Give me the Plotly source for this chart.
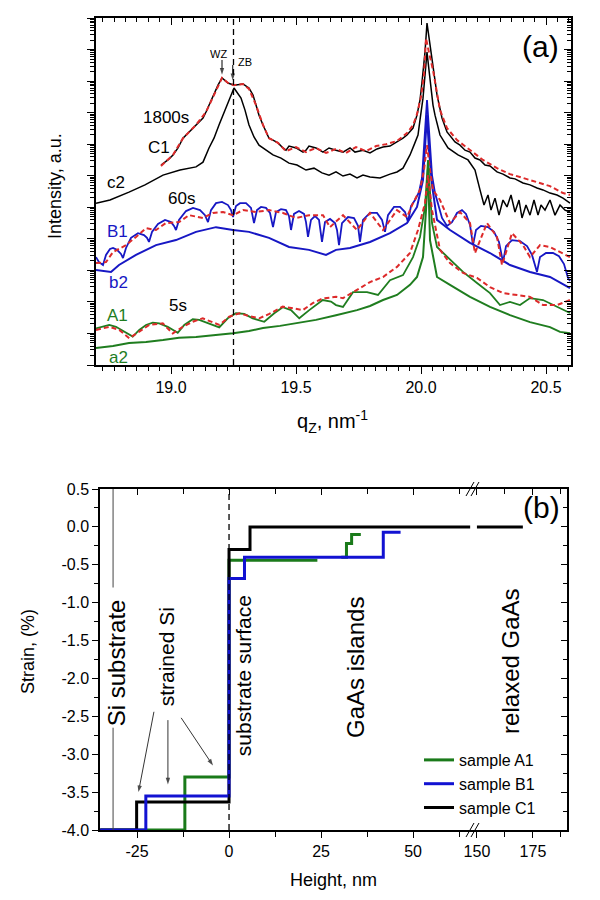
import plotly.graph_objects as go

# ---------------- panel (a): q_z (nm^-1) and log10(intensity, a.u.) ----------------
C1_q = [18.960, 18.988, 19.008, 19.028, 19.048, 19.072, 19.100, 19.128, 19.140, 19.152, 19.172, 19.188, 19.204,
        19.228, 19.252, 19.288, 19.312, 19.328, 19.340, 19.352, 19.368, 19.392, 19.408, 19.428, 19.448, 19.460,
        19.472, 19.500, 19.528, 19.540, 19.552, 19.580, 19.608, 19.632, 19.660, 19.688, 19.716, 19.736, 19.768,
        19.796, 19.824, 19.848, 19.876, 19.904, 19.928, 19.944, 19.968, 19.984, 19.996, 20.004, 20.016, 20.024,
        20.036, 20.044, 20.056, 20.064, 20.084, 20.104, 20.136, 20.156, 20.176, 20.196, 20.216, 20.236, 20.256,
        20.276, 20.304, 20.328, 20.356, 20.376, 20.408, 20.436, 20.464, 20.488, 20.516, 20.544, 20.568, 20.596]
C1_logI = [6.34, 6.50, 6.66, 6.88, 7.19, 7.39, 7.61, 7.83, 8.02, 8.24, 8.56, 8.87, 9.10, 8.94, 8.87, 8.91, 8.78,
           8.56, 8.24, 7.92, 7.61, 7.19, 7.13, 7.04, 6.88, 6.81, 6.94, 6.88, 6.75, 6.81, 6.94, 6.88, 6.75, 6.88,
           6.81, 6.75, 6.88, 6.75, 6.81, 6.72, 6.85, 6.91, 6.94, 7.07, 7.19, 7.29, 7.51, 7.92, 8.40, 8.97, 9.92,
           10.84, 10.14, 9.67, 9.03, 8.56, 7.83, 7.39, 7.07, 6.97, 6.81, 6.75, 6.56, 6.50, 6.34, 6.31, 6.12, 6.05,
           5.93, 5.90, 5.77, 5.71, 5.61, 5.55, 5.45, 5.39, 5.29, 5.13]

C1fit_q = [18.960, 19.008, 19.048, 19.100, 19.140, 19.172, 19.204, 19.228, 19.252, 19.288, 19.312, 19.340, 19.368,
           19.392, 19.428, 19.460, 19.500, 19.540, 19.580, 19.620, 19.660, 19.700, 19.740, 19.780, 19.820, 19.860,
           19.904, 19.944, 19.968, 19.984, 20.000, 20.012, 20.020, 20.032, 20.048, 20.076, 20.104, 20.144, 20.196,
           20.248, 20.304, 20.356, 20.408, 20.464, 20.516, 20.568, 20.596]
C1fit_logI = [6.31, 6.66, 7.19, 7.61, 8.02, 8.56, 9.10, 8.94, 8.87, 8.91, 8.75, 8.24, 7.61, 7.19, 7.04, 6.78, 6.91,
              6.75, 6.88, 6.72, 6.85, 6.72, 6.91, 6.78, 6.94, 7.00, 7.10, 7.35, 7.60, 7.95, 8.50, 9.20, 10.36, 9.90,
              9.35, 8.08, 7.51, 7.13, 6.81, 6.50, 6.24, 6.05, 5.93, 5.80, 5.67, 5.45, 5.39]

c2_q = [18.700, 18.756, 18.832, 18.896, 18.968, 19.036, 19.100, 19.128, 19.152, 19.172, 19.192, 19.212, 19.228,
        19.252, 19.280, 19.296, 19.312, 19.332, 19.352, 19.380, 19.408, 19.440, 19.472, 19.504, 19.540, 19.572,
        19.604, 19.632, 19.660, 19.688, 19.716, 19.744, 19.768, 19.796, 19.836, 19.876, 19.904, 19.928, 19.956,
        19.972, 19.988, 19.996, 20.008, 20.016, 20.024, 20.032, 20.040, 20.048, 20.056, 20.076, 20.108, 20.148,
        20.188, 20.216, 20.236, 20.252, 20.268, 20.280, 20.296, 20.312, 20.328, 20.344, 20.360, 20.376, 20.392,
        20.404, 20.420, 20.436, 20.452, 20.468, 20.480, 20.496, 20.516, 20.536, 20.556, 20.576, 20.596]
c2_logI = [5.13, 5.23, 5.48, 5.71, 6.02, 6.18, 6.28, 6.43, 6.88, 7.19, 7.61, 8.02, 8.34, 8.78, 8.46, 8.08, 7.61,
           7.23, 6.97, 6.81, 6.66, 6.56, 6.40, 6.34, 6.18, 6.24, 6.09, 6.02, 6.12, 5.99, 6.05, 5.93, 6.02, 5.96,
           5.93, 6.05, 6.12, 6.24, 6.66, 6.97, 7.29, 7.77, 8.46, 9.19, 9.92, 9.35, 8.72, 8.24, 7.92, 7.29, 6.88,
           6.66, 6.50, 6.18, 5.55, 5.07, 5.39, 4.91, 5.29, 4.75, 5.23, 5.01, 5.39, 4.85, 5.23, 4.66, 5.07, 4.75,
           5.23, 4.75, 5.07, 4.91, 5.23, 4.75, 5.07, 4.91, 4.85]

B1_q = [18.700, 18.712, 18.728, 18.740, 18.756, 18.768, 18.784, 18.800, 18.808, 18.820,
        18.840, 18.868, 18.892, 18.904, 18.912, 18.924, 18.948, 18.976, 19.000, 19.012,
        19.020, 19.032, 19.060, 19.088, 19.116, 19.136, 19.148, 19.160, 19.180, 19.204,
        19.228, 19.240, 19.248, 19.260, 19.276, 19.300, 19.320, 19.332, 19.344, 19.360,
        19.380, 19.396, 19.408, 19.420, 19.440, 19.460, 19.472, 19.480, 19.492, 19.512,
        19.532, 19.540, 19.548, 19.560, 19.576, 19.592, 19.604, 19.616, 19.636, 19.656,
        19.664, 19.672, 19.684, 19.708, 19.732, 19.748, 19.756, 19.768, 19.796, 19.824,
        19.844, 19.856, 19.868, 19.892, 19.916, 19.936, 19.948, 19.960, 19.976, 19.992,
        20.004, 20.012, 20.020, 20.024, 20.028, 20.036, 20.044, 20.056, 20.068, 20.084,
        20.104, 20.124, 20.144, 20.164, 20.180, 20.196, 20.208, 20.220, 20.240, 20.268,
        20.292, 20.312, 20.328, 20.340, 20.364, 20.396, 20.424, 20.444, 20.464, 20.476,
        20.500, 20.528, 20.552, 20.572, 20.588, 20.596]
B1_logI = [3.42, 3.26, 3.17, 3.49, 3.68, 3.71, 3.65, 3.52, 3.39, 3.71,
           4.03, 4.18, 4.12, 4.03, 3.90, 4.22, 4.47, 4.60, 4.53, 4.41,
           4.28, 4.60, 4.88, 4.98, 4.91, 4.75, 4.53, 4.91, 5.13, 5.17,
           5.07, 4.91, 4.69, 5.04, 5.13, 5.13, 4.98, 4.50, 4.91, 5.01,
           4.98, 4.82, 4.37, 4.85, 4.94, 4.91, 4.72, 4.28, 4.79, 4.88,
           4.79, 4.53, 4.06, 4.60, 4.72, 4.60, 3.90, 4.53, 4.63, 4.50,
           4.28, 3.80, 4.50, 4.69, 4.66, 4.41, 3.90, 4.60, 4.82, 4.82,
           4.60, 4.22, 4.75, 5.01, 5.01, 4.85, 4.53, 5.04, 5.23, 5.48,
           5.93, 6.81, 7.92, 8.40, 7.92, 6.97, 6.02, 5.45, 5.07, 4.66,
           4.41, 4.53, 4.82, 4.91, 4.79, 4.44, 3.80, 4.28, 4.41, 4.37,
           4.22, 3.90, 3.26, 3.77, 3.96, 3.93, 3.77, 3.49, 2.95, 3.42,
           3.55, 3.55, 3.45, 3.20, 2.76, 2.66]

B1fit_q = [18.700, 18.740, 18.768, 18.820, 18.860, 18.900, 18.940, 18.980, 19.032, 19.072, 19.128, 19.168, 19.208,
           19.248, 19.288, 19.340, 19.392, 19.448, 19.500, 19.552, 19.608, 19.636, 19.688, 19.744, 19.796, 19.848,
           19.904, 19.944, 19.968, 19.996, 20.012, 20.024, 20.036, 20.048, 20.076, 20.116, 20.156, 20.196, 20.216,
           20.264, 20.304, 20.324, 20.364, 20.408, 20.436, 20.476, 20.516, 20.556, 20.596]
B1fit_logI = [3.23, 3.26, 3.58, 3.80, 4.06, 4.34, 4.28, 4.50, 4.53, 4.75, 4.66, 4.82, 4.85, 4.75, 4.91, 4.85, 4.91,
              4.82, 4.66, 4.75, 4.75, 4.37, 4.75, 4.28, 4.82, 4.28, 4.91, 4.69, 5.13, 5.55, 6.18, 6.97, 6.18, 5.55,
              5.23, 4.50, 4.85, 4.50, 3.55, 4.50, 4.06, 3.17, 4.18, 3.80, 3.42, 3.80, 3.74, 3.58, 3.42]

b2_q = [18.700, 18.760, 18.792, 18.860, 18.940, 19.020, 19.100, 19.180, 19.248, 19.312, 19.392, 19.472, 19.552,
        19.620, 19.660, 19.716, 19.796, 19.876, 19.944, 19.984, 20.008, 20.016, 20.024, 20.032, 20.044, 20.064,
        20.116, 20.196, 20.276, 20.356, 20.436, 20.516, 20.596]
b2_logI = [3.01, 2.95, 3.17, 3.49, 3.80, 3.96, 4.22, 4.37, 4.28, 4.22, 4.03, 3.74, 3.65, 3.49, 3.65, 3.71, 3.90,
           4.18, 4.50, 5.01, 5.86, 6.81, 7.92, 6.81, 5.71, 4.60, 4.28, 3.87, 3.55, 3.17, 2.95, 2.79, 2.44]

A1_q = [18.700, 18.727, 18.753, 18.780, 18.813, 18.847, 18.873, 18.900, 18.927, 18.953, 18.987, 19.027, 19.053,
        19.087, 19.113, 19.147, 19.193, 19.227, 19.260, 19.293, 19.327, 19.373, 19.413, 19.447, 19.480, 19.513,
        19.553, 19.607, 19.640, 19.660, 19.688, 19.728, 19.784, 19.828, 19.876, 19.928, 19.968, 19.996, 20.016,
        20.028, 20.044, 20.064, 20.116, 20.168, 20.224, 20.276, 20.316, 20.356, 20.396, 20.436, 20.488, 20.544,
        20.596]
A1_logI = [1.16, 1.21, 1.27, 1.21, 1.06, 0.90, 1.11, 1.27, 1.34, 1.32, 1.21, 1.02, 1.27, 1.45, 1.43, 1.32, 1.19,
           1.48, 1.64, 1.62, 1.48, 1.37, 1.64, 1.83, 1.74, 1.48, 1.74, 2.06, 2.01, 1.90, 1.84, 2.31, 2.31, 2.22,
           2.69, 2.85, 3.42, 4.06, 5.01, 6.50, 4.50, 3.74, 3.33, 2.95, 2.60, 2.28, 1.90, 2.00, 1.90, 2.12, 2.06,
           1.84, 1.65]

A1fit_q = [18.700, 18.753, 18.793, 18.833, 18.873, 18.913, 18.967, 19.007, 19.047, 19.087, 19.127, 19.160, 19.193,
           19.233, 19.273, 19.313, 19.353, 19.393, 19.447, 19.487, 19.527, 19.567, 19.607, 19.660, 19.688, 19.744,
           19.796, 19.848, 19.904, 19.956, 19.988, 20.016, 20.028, 20.044, 20.076, 20.116, 20.168, 20.224, 20.276,
           20.328, 20.384, 20.436, 20.488, 20.544, 20.596]
A1fit_logI = [1.11, 1.21, 1.11, 0.85, 1.06, 1.27, 1.32, 1.00, 1.21, 1.37, 1.48, 1.37, 1.27, 1.53, 1.64, 1.55, 1.48,
              1.62, 1.85, 1.80, 1.74, 1.96, 2.11, 2.16, 2.12, 2.38, 2.63, 2.79, 3.11, 3.55, 4.28, 5.13, 6.02, 4.91,
              3.65, 3.23, 2.92, 2.76, 2.47, 2.28, 2.22, 2.16, 1.90, 1.90, 2.06]

a2_q = [18.700, 18.768, 18.832, 18.900, 18.968, 19.032, 19.100, 19.180, 19.248, 19.312, 19.368, 19.436, 19.500,
        19.580, 19.660, 19.744, 19.796, 19.848, 19.904, 19.928, 19.956, 19.984, 20.008, 20.020, 20.028, 20.036,
        20.064, 20.116, 20.196, 20.276, 20.356, 20.436, 20.516, 20.556, 20.596]
a2_logI = [0.54, 0.60, 0.70, 0.73, 0.79, 0.86, 0.89, 0.95, 1.01, 1.08, 1.17, 1.24, 1.33, 1.43, 1.58, 1.74, 1.87,
           2.06, 2.22, 2.38, 2.54, 2.79, 3.42, 4.91, 6.24, 3.96, 2.79, 2.54, 2.16, 1.84, 1.58, 1.36, 1.20, 1.05, 1.01]

qz_ticks = [19.0, 19.5, 20.0, 20.5]
qz_ticktext = ["19.0", "19.5", "20.0", "20.5"]
ZB_position = 19.25

# ---------------- panel (b): height (nm) vs strain (%) step profiles ----------------
A1_height = [-35.0, -12.0, 0.0, 24.0, None, 30.5, 31.9, 33.3, 35.8]
A1_strain = [-4.0, -3.30, -0.44, -0.44, None, -0.40, -0.22, -0.10, -0.10]
B1_height = [-35.0, -22.6, 0.0, 4.2, 41.9, 46.6]
B1_strain = [-4.0, -3.55, -0.68, -0.40, -0.07, -0.07]
C1_height_low = [-35.0, -25.1, 0.0, 5.7, 65.5]
C1_strain_low = [-4.0, -3.63, -0.30, 0.0, 0.0]
C1_height_high = [150.0, 170.5]
C1_strain_high = [0.0, 0.0]

strain_ticks = [0.5, 0.0, -0.5, -1.0, -1.5, -2.0, -2.5, -3.0, -3.5, -4.0]
strain_ticktext = ["0.5", "0.0", "-0.5", "-1.0", "-1.5", "-2.0", "-2.5", "-3.0", "-3.5", "-4.0"]
height_ticks_low = [-25, 0, 25, 50]
height_ticktext_low = ["-25", "0", "25", "50"]
height_ticks_high = [150, 175]
height_ticktext_high = ["150", "175"]

FONT = "Liberation Sans, Arial, sans-serif"
BLACK = "#000000"
BLUE = "#1717c4"
GREEN = "#1f7d1f"
RED = "#dd2a2a"
GREEN_B = "#1a7a1a"
BLUE_B = "#1212d2"


def to_int(v):
    return [10 ** x for x in v]


fig = go.Figure()


def add_a(q, logI, color, width, dash=None):
    fig.add_trace(go.Scatter(x=q, y=to_int(logI), mode="lines", showlegend=False, hoverinfo="skip",
                             line=dict(color=color, width=width, dash=dash), xaxis="x", yaxis="y"))


add_a(c2_q, c2_logI, BLACK, 1.5)
add_a(C1_q, C1_logI, BLACK, 1.5)
add_a(C1fit_q, C1fit_logI, RED, 2.0, "5px,3px")
add_a(b2_q, b2_logI, BLUE, 2.0)
add_a(B1_q, B1_logI, BLUE, 1.8)
add_a(B1fit_q, B1fit_logI, RED, 2.0, "5px,3px")
add_a(a2_q, a2_logI, GREEN, 2.0)
add_a(A1_q, A1_logI, GREEN, 1.8)
add_a(A1fit_q, A1fit_logI, RED, 2.0, "5px,3px")

# empty traces so that the mirrored tick axes exist
fig.add_trace(go.Scatter(x=[], y=[], xaxis="x2", yaxis="y2", showlegend=False))
fig.add_trace(go.Scatter(x=[], y=[], xaxis="x5", yaxis="y3", showlegend=False))
fig.add_trace(go.Scatter(x=[], y=[], xaxis="x6", yaxis="y4", showlegend=False))

# ---- panel (b) traces ----
fig.add_trace(go.Scatter(x=A1_height, y=A1_strain, mode="lines", name="sample A1", legendrank=1,
                         line=dict(color=GREEN_B, width=3, shape="hv"), connectgaps=False,
                         xaxis="x3", yaxis="y3", hoverinfo="skip"))
fig.add_trace(go.Scatter(x=C1_height_low, y=C1_strain_low, mode="lines", name="sample C1", legendrank=3,
                         legendgroup="C1", line=dict(color=BLACK, width=3, shape="hv"),
                         xaxis="x3", yaxis="y3", hoverinfo="skip"))
fig.add_trace(go.Scatter(x=C1_height_high, y=C1_strain_high, mode="lines", name="sample C1", showlegend=False,
                         legendgroup="C1", line=dict(color=BLACK, width=3, shape="hv"),
                         xaxis="x4", yaxis="y3", hoverinfo="skip"))
fig.add_trace(go.Scatter(x=B1_height, y=B1_strain, mode="lines", name="sample B1", legendrank=2,
                         line=dict(color=BLUE_B, width=3, shape="hv"),
                         xaxis="x3", yaxis="y3", hoverinfo="skip"))


# ---- pointer arrows (line + arrow-head marker) ----
def arrow(x0, y0, x1, y1, xa, ya, width=1.0, size=7):
    fig.add_trace(go.Scatter(x=[x0, x1], y=[y0, y1], mode="lines+markers", showlegend=False, hoverinfo="skip",
                             line=dict(color=BLACK, width=width),
                             marker=dict(symbol="arrow", angleref="previous", size=[0, size], color=BLACK,
                                         line=dict(width=0)),
                             xaxis=xa, yaxis=ya))


arrow(19.204, 10 ** 9.67, 19.204, 10 ** 9.20, "x", "y", 1.0, 7)
arrow(19.247, 10 ** 9.51, 19.247, 10 ** 9.03, "x", "y", 1.0, 7)
arrow(-20.4, -2.44, -24.6, -3.50, "x3", "y3", 0.8, 7)
arrow(-16.6, -2.55, -16.6, -3.40, "x3", "y3", 0.8, 7)
arrow(-13.0, -2.52, -4.35, -3.15, "x3", "y3", 0.8, 7)

tickfont = dict(family=FONT, size=16, color=BLACK)
minor_log = [k * 10 ** d for d in range(11) for k in range(2, 10)]
major_log = [10 ** d for d in range(12)]

common = dict(showgrid=False, zeroline=False, tickcolor=BLACK, tickwidth=1, tickfont=tickfont)

fig.update_layout(
    width=600, height=900, autosize=False,
    margin=dict(l=0, r=0, t=0, b=0, pad=0, autoexpand=False),
    paper_bgcolor="white", plot_bgcolor="rgba(0,0,0,0)",
    font=dict(family=FONT, color=BLACK),
    xaxis=dict(domain=[96 / 600, 571 / 600], anchor="y", range=[18.7, 20.6], tickmode="array",
               tickvals=qz_ticks, ticktext=qz_ticktext, ticks="outside", ticklen=7,
               showline=True, linecolor=BLACK, linewidth=1.5, mirror=True,
               minor=dict(ticks="outside", ticklen=4, tick0=19.0, dtick=0.5 / 11, tickcolor=BLACK, showgrid=False),
               **common),
    xaxis2=dict(overlaying="x", side="top", anchor="y", range=[18.7, 20.6], tickmode="array",
                tickvals=qz_ticks, showticklabels=False, ticks="inside", ticklen=7, showline=False,
                minor=dict(ticks="inside", ticklen=4, tick0=19.0, dtick=0.5 / 11, tickcolor=BLACK, showgrid=False),
                **common),
    yaxis=dict(domain=[1 - 365 / 900, 1 - 18 / 900], anchor="x", type="log", range=[0, 11],
               tickmode="array", tickvals=major_log, showticklabels=False, ticks="outside", ticklen=7,
               showline=True, linecolor=BLACK, linewidth=1.5, mirror=True,
               minor=dict(ticks="outside", ticklen=4, tickmode="array", tickvals=minor_log,
                          tickcolor=BLACK, showgrid=False),
               **common),
    yaxis2=dict(overlaying="y", side="right", anchor="x", type="log", range=[0, 11],
                tickmode="array", tickvals=major_log, showticklabels=False, ticks="inside", ticklen=7,
                showline=False,
                minor=dict(ticks="inside", ticklen=4, tickmode="array", tickvals=minor_log,
                           tickcolor=BLACK, showgrid=False),
                **common),
    xaxis3=dict(domain=[100 / 600, 472 / 600], anchor="y3", range=[-35.05, 66.0], tickmode="array",
                tickvals=height_ticks_low, ticktext=height_ticktext_low, ticks="outside", ticklen=6,
                showline=True, linecolor=BLACK, linewidth=1.5, mirror=True,
                minor=dict(ticks="outside", ticklen=5, tick0=0, dtick=12.5, tickcolor=BLACK, showgrid=False),
                **common),
    xaxis4=dict(domain=[472 / 600, 567 / 600], anchor="y3", range=[147.8, 190.2], tickmode="array",
                tickvals=height_ticks_high, ticktext=height_ticktext_high, ticks="outside", ticklen=6,
                showline=True, linecolor=BLACK, linewidth=1.5, mirror=True,
                minor=dict(ticks="outside", ticklen=5, tick0=150, dtick=12.5, tickcolor=BLACK, showgrid=False),
                **common),
    xaxis5=dict(overlaying="x3", side="top", anchor="y3", range=[-35.05, 66.0], tickmode="array",
                tickvals=height_ticks_low, showticklabels=False, ticks="inside", ticklen=6, showline=False,
                minor=dict(ticks="inside", ticklen=5, tick0=0, dtick=12.5, tickcolor=BLACK, showgrid=False),
                **common),
    xaxis6=dict(overlaying="x4", side="top", anchor="y4", range=[147.8, 190.2], tickmode="array",
                tickvals=height_ticks_high, showticklabels=False, ticks="inside", ticklen=6, showline=False,
                minor=dict(ticks="inside", ticklen=5, tick0=150, dtick=12.5, tickcolor=BLACK, showgrid=False),
                **common),
    yaxis3=dict(domain=[1 - 830 / 900, 1 - 489 / 900], anchor="x3", range=[-4.0, 0.5], tickmode="array",
                tickvals=strain_ticks, ticktext=strain_ticktext, ticks="outside", ticklen=6,
                showline=True, linecolor=BLACK, linewidth=1.5, mirror=False,
                minor=dict(ticks="outside", ticklen=4, tick0=0, dtick=0.25, tickcolor=BLACK, showgrid=False),
                **common),
    yaxis4=dict(overlaying="y3", side="right", anchor="x4", range=[-4.0, 0.5], tickmode="array",
                tickvals=strain_ticks, showticklabels=False, ticks="inside", ticklen=6,
                showline=True, linecolor=BLACK, linewidth=1.5,
                minor=dict(ticks="inside", ticklen=4, tick0=0, dtick=0.25, tickcolor=BLACK, showgrid=False),
                **common),
    legend=dict(x=419 / 600, y=1 - 743 / 900, xanchor="left", yanchor="top", bgcolor="rgba(0,0,0,0)",
                font=dict(family=FONT, size=16, color=BLACK), tracegroupgap=0, itemwidth=30),
)

# ---- shapes: reference lines & axis break marks ----
shapes = [
    dict(type="line", xref="x", yref="y domain", x0=ZB_position, x1=ZB_position, y0=0, y1=1,
         line=dict(color=BLACK, width=1.3, dash="6px,4px")),
    dict(type="line", xref="x3", yref="y3", x0=0, x1=0, y0=-4.0, y1=0.5,
         line=dict(color=BLACK, width=1.3, dash="6px,4px")),
    dict(type="line", xref="x3", yref="y3", x0=-31.5, x1=-31.5, y0=0.5, y1=-0.8,
         line=dict(color="#444444", width=1)),
    dict(type="line", xref="x3", yref="y3", x0=-31.5, x1=-31.5, y0=-2.65, y1=-4.0,
         line=dict(color="#444444", width=1)),
]
for yb in (489, 830):
    for xo in (466, 471):
        shapes.append(dict(type="line", xref="paper", yref="paper", x0=xo / 600, x1=(xo + 8) / 600,
                           y0=1 - (yb + 7) / 900, y1=1 - (yb - 7) / 900, line=dict(color=BLACK, width=1)))
fig.update_layout(shapes=shapes)

ann = []


def txt(x, y, s, size, color=BLACK, xref="x", yref="y", angle=0, xanchor="center"):
    ann.append(dict(x=x, y=y, xref=xref, yref=yref, text=s, showarrow=False, textangle=angle,
                    xanchor=xanchor, yanchor="middle", font=dict(family=FONT, size=size, color=color)))


# panel (a) labels (y in log10 units)
txt(20.476, 10.1, "(a)", 30)
txt(19.19, 9.85, "WZ", 11)
txt(19.296, 9.60, "ZB", 11)
txt(18.98, 7.86, "1800s", 17)
txt(18.952, 6.88, "C1", 17)
txt(18.78, 5.80, "c2", 17)
txt(19.04, 5.29, "60s", 17)
txt(18.784, 4.22, "B1", 17, BLUE)
txt(18.788, 2.63, "b2", 17, BLUE)
txt(19.028, 1.90, "5s", 17)
txt(18.784, 1.58, "A1", 17, GREEN)
txt(18.788, 0.25, "a2", 17, GREEN)

# axis titles
txt(55 / 600, 1 - 186 / 900, "Intensity, a.u.", 18, xref="paper", yref="paper", angle=-90)
txt(332 / 600, 1 - 421 / 900, "q<sub>Z</sub>, nm<sup>-1</sup>", 20, xref="paper", yref="paper")
txt(28 / 600, 1 - 652 / 900, "Strain, (%)", 18, xref="paper", yref="paper", angle=-90)
txt(333 / 600, 1 - 880 / 900, "Height, nm", 18, xref="paper", yref="paper")

# panel (b) labels
txt(179, 0.25, "(b)", 30, xref="x4", yref="y3")
txt(-30.7, -1.80, "Si substrate", 24, xref="x3", yref="y3", angle=-90)
txt(-17.1, -1.72, "strained Si", 21, xref="x3", yref="y3", angle=-90)
txt(3.8, -1.97, "substrate surface", 21, xref="x3", yref="y3", angle=-90)
txt(34.2, -1.85, "GaAs islands", 24, xref="x3", yref="y3", angle=-90)
txt(164.7, -1.77, "relaxed GaAs", 24, xref="x4", yref="y3", angle=-90)

fig.update_layout(annotations=ann)

page_css = ("var s=document.createElement('style');"
            "s.textContent='html,body{margin:0!important;padding:0!important;overflow:hidden;"
            "width:600px;height:900px;} .plotly-graph-div{margin:0!important;}';"
            "document.head.appendChild(s);")

fig.write_html("out.html", config={"displayModeBar": False}, post_script=page_css)
